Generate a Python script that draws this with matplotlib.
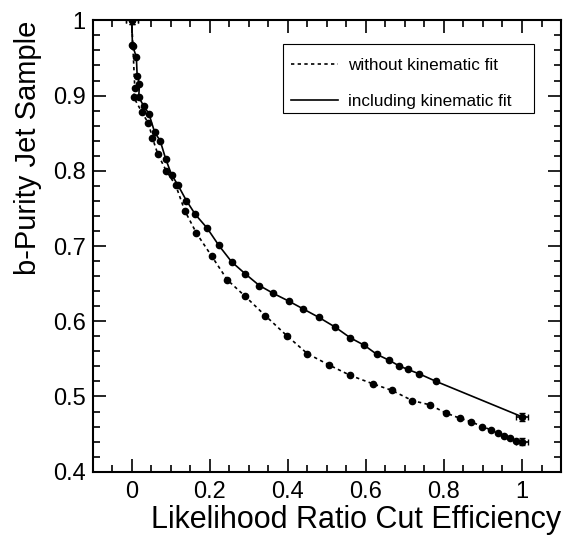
import matplotlib
matplotlib.use("Agg")
import matplotlib.pyplot as plt
from matplotlib.patches import Rectangle
from matplotlib.ticker import MultipleLocator, FuncFormatter

plt.rcParams.update({
    'font.family': ['Liberation Sans', 'DejaVu Sans'],
    'font.size': 17,
})

# b-purity vs likelihood ratio cut efficiency
eff_with = [0.0, 0.002, 0.012, 0.014, 0.020, 0.018, 0.031, 0.044, 0.059, 0.073,
            0.087, 0.102, 0.119, 0.140, 0.163, 0.193, 0.223, 0.256, 0.291, 0.327,
            0.363, 0.403, 0.439, 0.480, 0.522, 0.560, 0.596, 0.628, 0.660, 0.684,
            0.707, 0.737, 0.780, 1.0]
pur_with = [1.0, 0.967, 0.951, 0.926, 0.916, 0.898, 0.886, 0.876, 0.851, 0.840,
            0.816, 0.795, 0.7805, 0.7605, 0.742, 0.724, 0.701, 0.679, 0.663, 0.6475,
            0.637, 0.6266, 0.6165, 0.605, 0.592, 0.578, 0.568, 0.556, 0.548, 0.541,
            0.536, 0.530, 0.520, 0.473]

eff_without = [0.0, 0.003, 0.008, 0.005, 0.026, 0.043, 0.053, 0.067, 0.089, 0.113,
               0.136, 0.166, 0.205, 0.245, 0.291, 0.342, 0.397, 0.450, 0.505, 0.560,
               0.617, 0.667, 0.719, 0.763, 0.805, 0.841, 0.869, 0.898, 0.921, 0.938,
               0.955, 0.970, 0.985, 1.0]
pur_without = [1.0, 0.966, 0.9095, 0.898, 0.878, 0.863, 0.844, 0.822, 0.7995, 0.7805,
               0.747, 0.717, 0.6865, 0.655, 0.633, 0.6076, 0.581, 0.557, 0.542, 0.528,
               0.517, 0.508, 0.4945, 0.489, 0.478, 0.471, 0.4665, 0.460, 0.4555, 0.451,
               0.447, 0.445, 0.441, 0.440]

# only the end points show visible error bars
end_xerr = 0.015
end_yerr = 0.005

fig = plt.figure(figsize=(5.65, 5.36), dpi=100)
ax = fig.add_axes([0.164, 0.120, 0.829, 0.842])

ax.plot(eff_without, pur_without, color='black', lw=1.2, linestyle=(0, (2.0, 2.0)),
        marker='o', markersize=4.5, label='without kinematic fit')
ax.plot(eff_with, pur_with, color='black', lw=1.2, linestyle='-',
        marker='o', markersize=4.5, label='including kinematic fit')

for xs, ys in [(eff_with, pur_with), (eff_without, pur_without)]:
    ax.errorbar([xs[0], xs[-1]], [ys[0], ys[-1]], xerr=end_xerr, yerr=end_yerr,
                fmt='none', ecolor='black', elinewidth=1.2, capsize=2)

ax.set_xlim(-0.1, 1.1)
ax.set_ylim(0.4, 1.0)
ax.xaxis.set_major_locator(MultipleLocator(0.2))
ax.xaxis.set_minor_locator(MultipleLocator(0.05))
ax.yaxis.set_major_locator(MultipleLocator(0.1))
ax.yaxis.set_minor_locator(MultipleLocator(0.02))
ax.xaxis.set_major_formatter(FuncFormatter(lambda v, p: f"{v:g}"))
ax.yaxis.set_major_formatter(FuncFormatter(lambda v, p: f"{v:g}"))

ax.tick_params(which='both', direction='in', top=True, right=True, width=1.2)
ax.tick_params(which='major', length=9.5, labelsize=17, pad=5)
ax.tick_params(which='minor', length=4.8)
ax.tick_params(axis='x', which='major', pad=7)
for s in ax.spines.values():
    s.set_linewidth(1.5)

ax.set_xlabel('Likelihood Ratio Cut Efficiency', fontsize=22, loc='right', labelpad=1)
ax.set_ylabel('b-Purity Jet Sample', fontsize=21, loc='top', labelpad=8)

# ROOT-style legend: frame drawn separately, entries sit low in the box
ax.add_patch(Rectangle((0.406, 0.794), 0.536, 0.153, transform=ax.transAxes,
                       fill=True, facecolor='white', edgecolor='black',
                       lw=0.8, zorder=4))
leg = ax.legend(loc='upper left', bbox_to_anchor=(0.423, 0.917),
                borderaxespad=0, frameon=False, fontsize=12.3,
                handlelength=2.75, labelspacing=1.23,
                borderpad=0, handletextpad=0.6)
leg.set_zorder(5)
for h in leg.legend_handles:
    h.set_marker('')

fig.savefig('out.png', dpi=100, facecolor='white')
